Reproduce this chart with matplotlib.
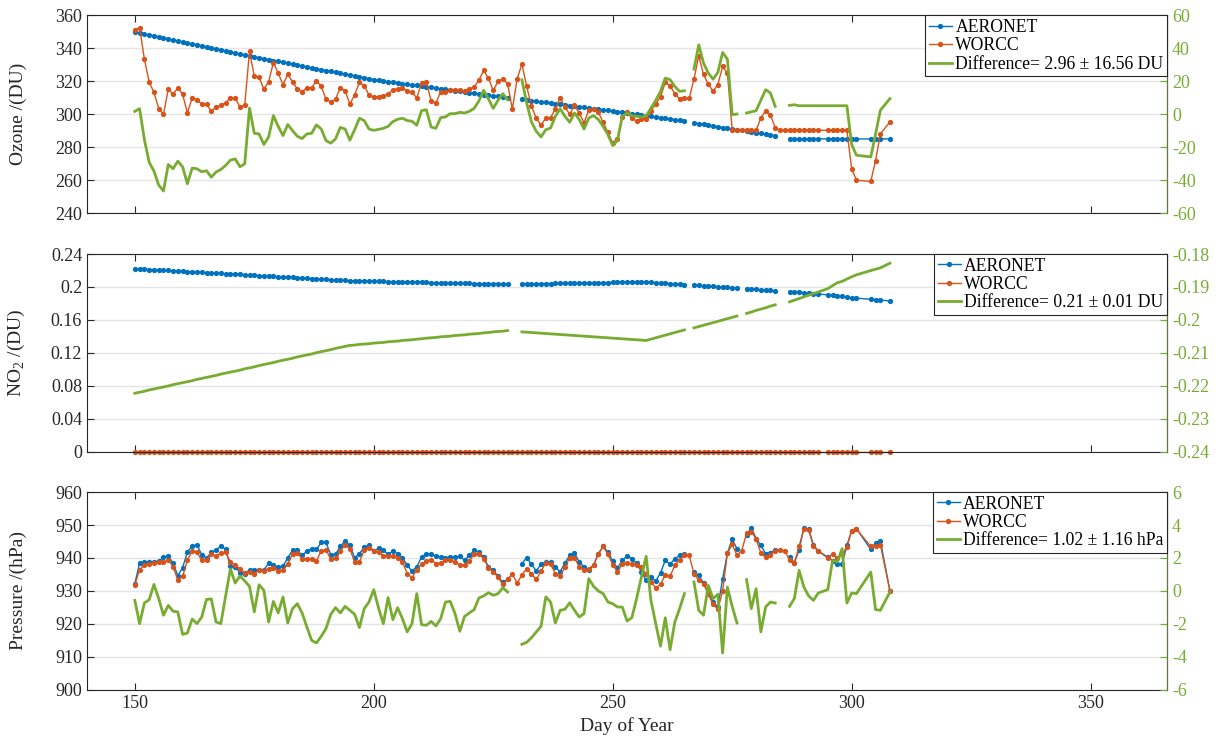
import numpy as np
import matplotlib
matplotlib.use("Agg")
import matplotlib.pyplot as plt
from matplotlib.ticker import FormatStrFormatter

nan = np.nan

# day rows present in the file (294, 302, 303, 307 have no row)
days = list(range(150, 294)) + list(range(295, 302)) + [304, 305, 306, 308]

ozone_aeronet = [
    350.0, 349.4, 348.8, 348.2, 347.6, 347.0, 346.4, 345.7, 345.1, 344.5,
    343.9, 343.3, 342.7, 342.1, 341.5, 340.9, 340.3, 339.7, 339.1, 338.4,
    337.8, 337.2, 336.6, 336.0, 335.4, 334.8, 334.3, 333.7, 333.2, 332.6,
    332.1, 331.5, 331.0, 330.4, 329.9, 329.3, 328.7, 328.2, 327.6, 327.1,
    326.5, 326.0, 325.4, 324.9, 324.3, 323.8, 323.2, 322.7, 322.1, 321.6,
    321.0, 320.6, 320.2, 319.8, 319.4, 319.0, 318.6, 318.2, 317.9, 317.5,
    317.1, 316.7, 316.3, 315.9, 315.5, 315.1, 314.7, 314.3, 313.9, 313.5,
    313.1, 312.8, 312.4, 312.0, 311.6, 311.2, 310.8, 310.4, 310.0, nan,
    nan, 309.0, 308.6, 308.3, 307.9, 307.5, 307.2, 306.8, 306.4, 306.1,
    305.7, 305.3, 305.0, 304.6, 304.2, 303.8, 303.5, 303.1, 302.7, 302.4,
    302.0, 301.6, 301.2, 300.8, 300.4, 300.0, 299.6, 299.2, 298.8, 298.4,
    298.0, 297.6, 297.2, 296.8, 296.4, 296.0, nan, 294.8, 294.4, 293.9,
    293.4, 293.0, 292.5, 292.0, 291.6, 291.1, 290.7, nan, 289.7, 289.3,
    288.8, 288.4, 287.9, 287.4, 287.0, nan, nan, 285.1, 285.1, 285.1,
    285.1, 285.1, 285.1, 285.1,
    285.1, 285.1, 285.1, 285.1, 285.1, 285.1, 285.1,
    285.1, 285.1, 285.1, 285.1,
]
ozone_worcc = [
    351.2, 352.6, 333.4, 319.7, 313.3, 303.4, 300.0, 315.3, 312.1, 316.1,
    312.1, 300.8, 310.0, 308.9, 306.2, 306.2, 301.8, 304.4, 305.4, 307.0,
    310.0, 310.0, 304.4, 305.6, 338.3, 323.0, 322.4, 315.3, 319.7, 331.4,
    325.0, 318.0, 324.2, 319.7, 315.3, 313.7, 316.1, 316.1, 320.3, 316.9,
    309.3, 307.3, 309.3, 316.1, 314.3, 306.2, 311.9, 319.3, 317.3, 311.7,
    310.5, 310.7, 311.3, 312.1, 314.9, 315.3, 316.1, 314.3, 313.3, 310.0,
    318.9, 319.3, 308.3, 306.8, 313.7, 313.7, 314.9, 314.9, 314.9, 314.1,
    315.5, 316.5, 320.7, 326.6, 321.8, 314.5, 319.9, 321.5, 318.5, 303.2,
    321.6, 330.4, 316.9, 305.0, 297.6, 293.4, 297.8, 298.0, 303.2, 310.1,
    304.4, 300.0, 305.4, 300.8, 294.8, 302.8, 303.2, 301.2, 295.2, 289.1,
    282.7, 285.1, 298.4, 301.2, 297.6, 296.0, 297.2, 297.2, 302.2, 306.2,
    310.7, 319.3, 317.3, 312.5, 309.3, 309.7, 309.7, 321.3, 335.4, 324.2,
    318.1, 314.1, 318.0, 329.0, 325.0, 290.3, 290.3, 290.3, 290.3, 290.3,
    290.3, 297.8, 302.2, 299.8, 291.7, 290.3, 290.3, 290.3, 290.3, 290.3,
    290.3, 290.3, 290.3, 290.3,
    290.3, 290.3, 290.3, 290.3, 290.3, 267.0, 260.1,
    259.3, 272.0, 288.1, 295.4,
]
ozone_diff = [
    1.8, 3.4, -15.3, -29.0, -34.4, -42.9, -46.5, -30.4, -33.0, -28.4,
    -31.8, -42.1, -32.6, -33.0, -34.8, -34.2, -38.1, -35.0, -33.4, -31.0,
    -27.8, -27.0, -31.8, -30.0, 3.8, -11.5, -11.9, -18.3, -13.7, -0.8,
    -7.3, -12.9, -6.2, -9.9, -13.3, -14.7, -11.9, -11.5, -6.4, -8.9,
    -15.9, -17.5, -14.9, -7.9, -8.9, -15.7, -9.3, -2.4, -3.8, -8.9,
    -9.7, -9.1, -8.5, -7.3, -4.4, -3.0, -2.4, -3.8, -4.2, -6.6,
    2.2, 2.8, -7.7, -8.5, -2.0, -1.6, 0.4, 0.4, 1.2, 0.8,
    1.8, 3.6, 8.1, 14.5, 9.3, 3.6, 8.5, 12.5, 8.9, nan,
    nan, 20.9, 6.8, -4.6, -10.3, -13.7, -9.3, -8.3, -1.2, 3.4,
    -1.2, -4.8, 0.8, -3.2, -8.9, -2.2, -0.8, -3.2, -7.3, -12.3,
    -18.9, -15.7, -1.2, 0.8, -0.8, -1.2, -1.6, -1.0, 3.8, 8.5,
    13.9, 22.0, 21.0, 16.9, 13.9, 14.3, nan, 27.4, 42.1, 31.0,
    25.0, 21.3, 25.4, 37.5, 33.4, -0.2, 0.2, nan, 0.8, 1.5,
    2.2, 8.5, 14.9, 12.9, 4.8, nan, nan, 5.4, 5.8, 5.2,
    5.2, 5.2, 5.2, 5.2,
    5.2, 5.2, 5.2, 5.2, 5.2, -18.3, -24.8,
    -25.8, -12.0, 2.4, 9.5,
]

no2_aeronet = [
    .2222, .2219, .2216, .2212, .2209, .2206, .2203, .2200, .2196, .2193,
    .2190, .2187, .2184, .2180, .2177, .2174, .2171, .2168, .2164, .2161,
    .2158, .2155, .2152, .2148, .2145, .2142, .2138, .2135, .2132, .2129,
    .2125, .2122, .2119, .2116, .2112, .2109, .2106, .2103, .2099, .2096,
    .2093, .2090, .2086, .2083, .2080, .2077, .2076, .2074, .2073, .2072,
    .2070, .2069, .2068, .2066, .2065, .2064, .2062, .2061, .2060, .2058,
    .2057, .2055, .2054, .2053, .2051, .2050, .2049, .2047, .2046, .2045,
    .2043, .2042, .2041, .2039, .2038, .2036, .2035, .2034, .2032, nan,
    nan, .2036, .2037, .2038, .2039, .2040, .2041, .2042, .2043, .2044,
    .2045, .2046, .2047, .2048, .2049, .2050, .2051, .2052, .2053, .2054,
    .2055, .2056, .2057, .2058, .2059, .2060, .2061, .2062, .2058, .2054,
    .2050, .2046, .2042, .2038, .2034, .2030, nan, .2024, .2020, .2016,
    .2012, .2008, .2004, .2000, .1996, .1992, .1988, nan, .1980, .1976,
    .1971, .1967, .1963, .1958, .1954, nan, nan, .1945, .1940, .1935,
    .1930, .1925, .1920, .1915,
    .1905, .1898, .1891, .1885, .1878, .1871, .1865,
    .1850, .1846, .1842, .1830,
]
no2_worcc = [0.0] * len(days)
no2_diff = [
    -.2222, -.2219, -.2216, -.2212, -.2209, -.2206, -.2203, -.2200, -.2196, -.2193,
    -.2190, -.2187, -.2184, -.2180, -.2177, -.2174, -.2171, -.2168, -.2164, -.2161,
    -.2158, -.2155, -.2152, -.2148, -.2145, -.2142, -.2138, -.2135, -.2132, -.2129,
    -.2125, -.2122, -.2119, -.2116, -.2112, -.2109, -.2106, -.2103, -.2099, -.2096,
    -.2093, -.2090, -.2086, -.2083, -.2080, -.2077, -.2076, -.2074, -.2073, -.2072,
    -.2070, -.2069, -.2068, -.2066, -.2065, -.2064, -.2062, -.2061, -.2060, -.2058,
    -.2057, -.2055, -.2054, -.2053, -.2051, -.2050, -.2049, -.2047, -.2046, -.2045,
    -.2043, -.2042, -.2041, -.2039, -.2038, -.2036, -.2035, -.2034, -.2032, nan,
    nan, -.2036, -.2037, -.2038, -.2039, -.2040, -.2041, -.2042, -.2043, -.2044,
    -.2045, -.2046, -.2047, -.2048, -.2049, -.2050, -.2051, -.2052, -.2053, -.2054,
    -.2055, -.2056, -.2057, -.2058, -.2059, -.2060, -.2061, -.2062, -.2058, -.2054,
    -.2050, -.2046, -.2042, -.2038, -.2034, -.2030, nan, -.2024, -.2020, -.2016,
    -.2012, -.2008, -.2004, -.2000, -.1996, -.1992, -.1988, nan, -.1980, -.1976,
    -.1971, -.1967, -.1963, -.1958, -.1954, nan, nan, -.1945, -.1940, -.1935,
    -.1930, -.1925, -.1920, -.1915,
    -.1905, -.1896, -.1887, -.1883, -.1876, -.1869, -.1863,
    -.1850, -.1846, -.1842, -.1828,
]

pressure_aeronet = [
    932.2, 938.5, 938.7, 938.9, 938.9, 939.0, 940.3, 940.5, 938.5, 934.6,
    937.1, 941.8, 943.7, 944.0, 941.0, 939.9, 941.7, 942.3, 943.7, 942.6,
    937.5, 937.3, 935.5, 935.1, 936.5, 936.5, 936.5, 936.3, 938.5, 937.8,
    937.3, 937.5, 940.1, 942.3, 942.3, 940.8, 942.1, 942.8, 942.6, 944.7,
    944.7, 941.0, 941.1, 943.5, 945.2, 943.8, 940.1, 941.3, 943.3, 943.8,
    942.1, 942.9, 942.3, 941.1, 942.1, 941.3, 940.1, 937.8, 936.1, 937.3,
    940.3, 941.1, 941.3, 940.5, 940.3, 940.1, 940.3, 940.3, 940.5, 939.3,
    940.8, 942.3, 941.8, 940.3, 937.3, 936.3, 934.4, 932.6, 933.5, nan,
    nan, 938.3, 940.1, 938.1, 936.1, 938.1, 938.8, 938.8, 937.3, 935.8,
    938.5, 940.8, 941.5, 938.8, 937.3, 936.3, 937.8, 941.3, 943.5, 941.8,
    939.0, 937.0, 939.3, 940.6, 939.8, 938.5, 935.8, 933.2, 934.2, 933.0,
    935.5, 939.3, 938.1, 939.8, 940.8, 941.1, nan, 935.8, 934.7, 932.4,
    929.7, 926.7, 925.2, 933.7, 941.5, 945.7, 942.8, nan, 946.9, 949.2,
    945.9, 943.8, 941.3, 941.5, 942.5, nan, nan, 940.3, 938.6, 942.4,
    949.2, 948.7, 944.0, 942.1,
    940.3, 939.2, 938.3, 938.3, 943.8, 948.3, 948.9,
    942.6, 944.6, 945.3, 930.0,
]
pressure_worcc = [
    931.7, 936.5, 938.0, 938.3, 938.5, 938.7, 938.7, 939.5, 937.3, 933.4,
    934.4, 939.3, 942.1, 941.8, 939.3, 939.5, 941.1, 940.6, 941.6, 941.8,
    938.8, 937.8, 936.8, 935.5, 935.8, 935.1, 936.5, 936.1, 936.8, 937.1,
    936.1, 936.3, 938.1, 941.3, 941.5, 939.8, 939.8, 939.8, 939.1, 942.1,
    942.5, 939.7, 940.0, 942.1, 944.0, 942.7, 938.8, 938.8, 942.3, 943.1,
    942.1, 941.8, 940.7, 940.6, 940.5, 940.1, 938.8, 935.3, 934.0, 936.5,
    938.1, 939.1, 939.5, 938.3, 938.5, 939.3, 939.5, 938.8, 937.8, 937.8,
    939.1, 941.1, 941.3, 939.8, 937.1, 935.8, 934.2, 932.0, 933.6, 935.1,
    932.4, 934.9, 936.8, 935.1, 933.5, 936.0, 938.6, 938.1, 935.3, 934.4,
    937.3, 940.1, 940.1, 937.3, 936.3, 936.8, 937.8, 941.3, 943.5, 941.1,
    938.0, 935.8, 938.3, 938.6, 938.1, 938.0, 937.3, 935.1, 932.7, 931.0,
    932.0, 934.9, 934.4, 937.8, 939.5, 940.8, 940.8, 935.3, 933.2, 932.2,
    929.0, 926.0, 924.4, 930.0, 941.5, 944.1, 940.8, 942.2, 947.5, 948.0,
    945.8, 941.5, 940.2, 941.0, 942.2, 942.5, 942.2, 939.4, 938.4, 943.5,
    948.9, 948.6, 943.5, 942.1,
    940.0, 941.2, 939.9, 941.2, 943.3, 948.3, 948.8,
    943.5, 943.5, 944.0, 930.1,
]
pressure_diff = [
    -0.57, -1.98, -0.73, -0.53, 0.40, -0.46, -1.47, -0.87, -1.23, -1.27,
    -2.63, -2.55, -1.70, -1.98, -1.58, -0.51, -0.48, -1.88, -1.98, -0.30,
    1.35, 0.48, 0.91, 0.61, 0.28, -1.27, 0.38, 0.04, -1.88, -0.63,
    -1.33, -0.36, -1.94, -1.07, -0.77, -1.33, -2.18, -2.99, -3.15, -2.75,
    -2.28, -1.41, -1.01, -1.33, -0.93, -1.17, -1.41, -2.22, -1.07, -0.67,
    0.08, -1.03, -1.98, -0.40, -1.74, -1.01, -1.68, -2.48, -1.98, -0.16,
    -2.04, -2.08, -1.84, -2.12, -1.68, -0.67, -0.63, -1.37, -2.44, -1.54,
    -1.33, -1.13, -0.42, -0.30, -0.10, -0.26, -0.16, 0.20, -0.06, nan,
    nan, -3.23, -3.11, -2.83, -2.48, -2.14, -0.36, -0.67, -1.94, -1.17,
    -1.11, -0.71, -1.17, -1.58, -1.37, 0.75, 0.28, 0.00, -0.16, -0.67,
    -0.77, -0.97, -0.97, -1.82, -1.62, -0.46, 0.85, 2.10, -0.57, -1.98,
    -3.35, -1.62, -3.56, -1.88, -1.07, -0.16, nan, 0.55, -1.17, -1.47,
    0.34, -0.46, -0.20, -3.76, 0.24, -0.93, -1.94, nan, 0.69, -1.07,
    0.14, -2.48, -0.97, -0.67, -0.73, nan, nan, -0.93, -0.46, 1.25,
    0.24, -0.30, -0.57, -0.12,
    0.08, 1.86, 1.76, 2.57, -0.73, -0.12, -0.16,
    1.15, -1.13, -1.17, -0.06,
]

x_ticks = [150, 200, 250, 300, 350]

plt.rcParams['font.family'] = ['Liberation Serif', 'DejaVu Serif']
plt.rcParams['mathtext.fontset'] = 'custom'
plt.rcParams['mathtext.rm'] = 'Liberation Serif'
plt.rcParams['axes.unicode_minus'] = False

BLUE = '#0072BD'
ORANGE = '#D95319'
GREEN = '#77AC30'
DARK = '#262626'


def draw_panel(ax, aer, wor, diff, ylim, yticks, rlim, rticks, ylabel, diff_label,
               yfmt=None, rfmt=None, show_x=False):
    ax.plot(days, aer, '-o', color=BLUE, lw=1, ms=3.8, mew=0, label='AERONET',
            clip_on=False)
    ax.plot(days, wor, '-o', color=ORANGE, lw=1, ms=3.8, mew=0, label='WORCC',
            clip_on=False)
    ax.set_xlim(140, 366)
    ax.set_ylim(*ylim)
    ax.set_yticks(yticks)
    ax.set_xticks(x_ticks)
    ax.yaxis.grid(True, color='#e5e5e5', lw=1)
    ax.set_axisbelow(True)
    if yfmt:
        ax.yaxis.set_major_formatter(FormatStrFormatter(yfmt))
    ax.tick_params(axis='both', direction='in', length=5, width=0.8, colors=DARK,
                   labelsize=13, top=True, right=False, labelbottom=show_x)
    for s in ['left', 'top', 'bottom']:
        ax.spines[s].set_color(DARK)
        ax.spines[s].set_linewidth(0.8)
    ax.set_ylabel(ylabel, fontsize=14, color=DARK)
    ax.yaxis.set_label_coords(-0.056, 0.5)

    ax2 = ax.twinx()
    ax2.plot(days, diff, '-', color=GREEN, lw=2, label=diff_label)
    ax2.set_ylim(*rlim)
    ax2.set_yticks(rticks)
    if rfmt:
        ax2.yaxis.set_major_formatter(rfmt)
    ax2.tick_params(axis='y', direction='in', length=5, width=0.8, colors=GREEN,
                    labelcolor=GREEN, labelsize=13)
    ax2.spines['right'].set_color('#5f7a3a')
    ax2.spines['right'].set_linewidth(0.8)
    for s in ['left', 'top', 'bottom']:
        ax2.spines[s].set_visible(False)

    h1, l1 = ax.get_legend_handles_labels()
    h2, l2 = ax2.get_legend_handles_labels()
    leg = ax2.legend(h1 + h2, l1 + l2, loc='upper right', fontsize=12.7,
                     frameon=True, fancybox=False, framealpha=1, edgecolor=DARK,
                     borderaxespad=0, borderpad=0.2, labelspacing=0.08,
                     handlelength=1.3, handletextpad=0.2, numpoints=1)
    leg.get_frame().set_linewidth(0.8)
    return ax2


fig = plt.figure(figsize=(12.24, 7.44), dpi=100)
left, width, height = 0.0711, 0.8824, 0.2661

ax_top = fig.add_axes([left, 0.7133, width, height])
draw_panel(ax_top, ozone_aeronet, ozone_worcc, ozone_diff,
           (240, 360), range(240, 361, 20), (-60, 60), range(-60, 61, 20),
           'Ozone /(DU)', 'Difference= 2.96 \u00b1 16.56 DU')

ax_mid = fig.add_axes([left, 0.3925, width, height])
draw_panel(ax_mid, no2_aeronet, no2_worcc, no2_diff,
           (0, 0.24), [0, 0.04, 0.08, 0.12, 0.16, 0.2, 0.24],
           (-0.24, -0.18), [-0.24, -0.23, -0.22, -0.21, -0.2, -0.19, -0.18],
           'NO$_\\mathregular{2}$ /(DU)', 'Difference= 0.21 \u00b1 0.01 DU',
           yfmt='%g', rfmt=FormatStrFormatter('%g'))

ax_bot = fig.add_axes([left, 0.0726, width, height])
draw_panel(ax_bot, pressure_aeronet, pressure_worcc, pressure_diff,
           (900, 960), range(900, 961, 10), (-6, 6), range(-6, 7, 2),
           'Pressure /(hPa)', 'Difference= 1.02 \u00b1 1.16 hPa', show_x=True)
ax_bot.set_xlabel('Day of Year', fontsize=14, color=DARK, labelpad=4)

fig.savefig('out.png', dpi=100)
